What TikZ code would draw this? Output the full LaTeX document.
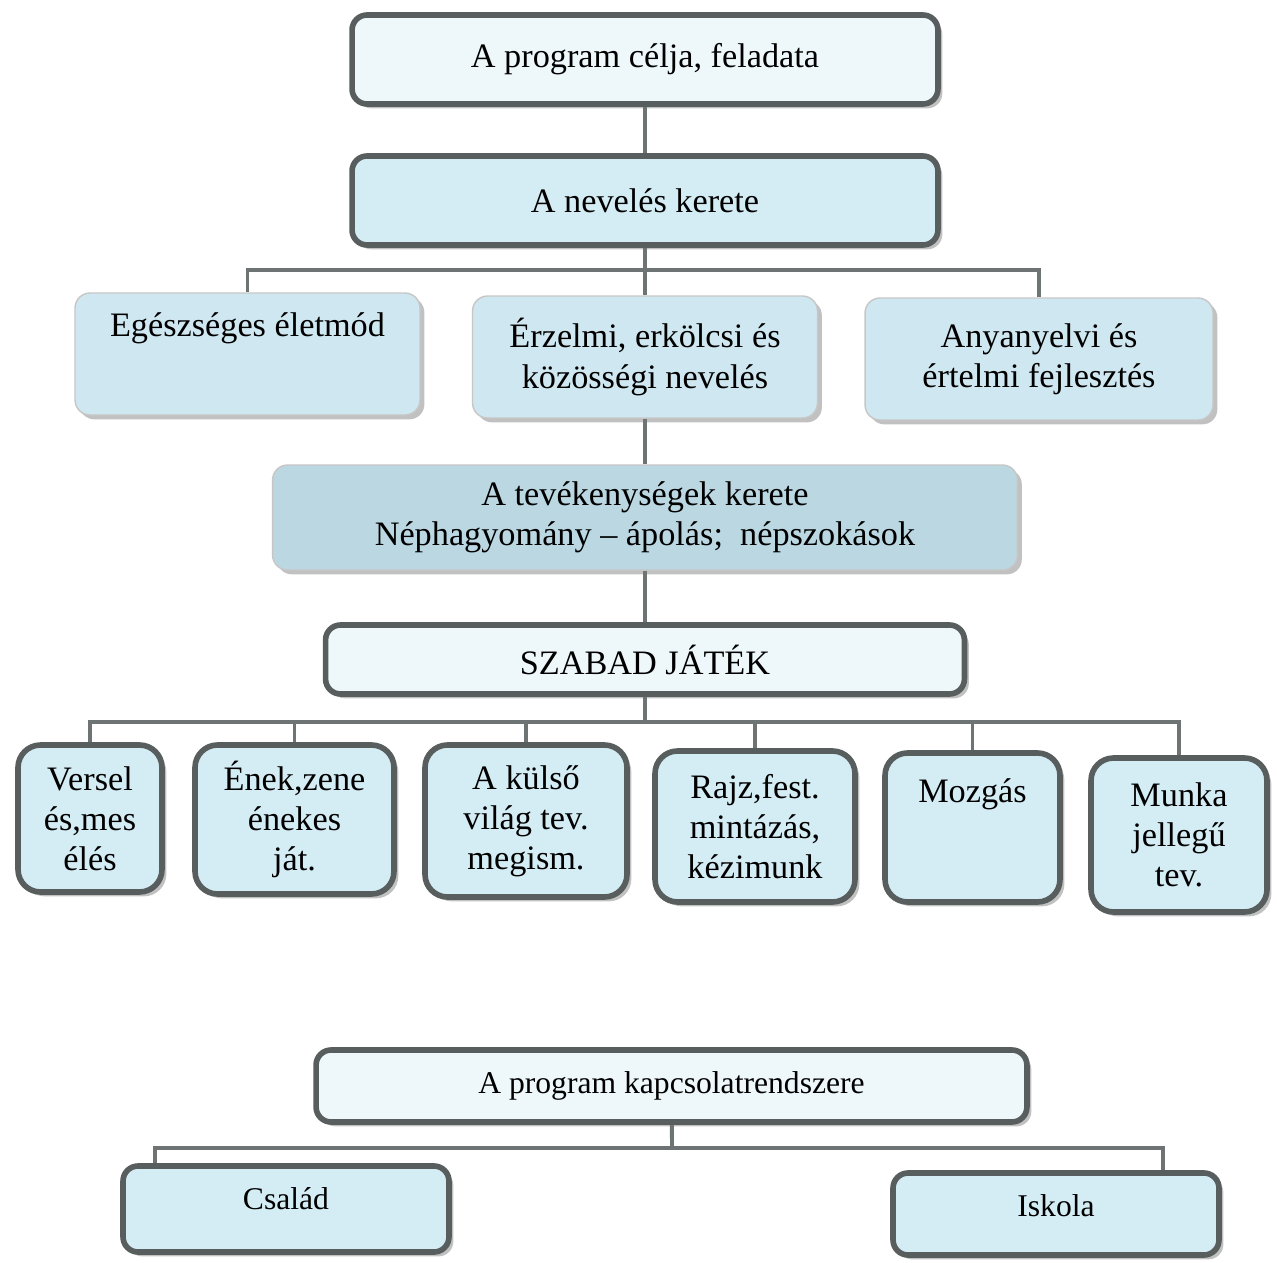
\documentclass[tikz,border=0pt]{standalone}
\usepackage{fontspec}
\setmainfont{Liberation Serif}
\usepackage{xcolor}
\usetikzlibrary{shadows}
\definecolor{paleblue}{HTML}{EEF8FB}
\definecolor{lightblue}{HTML}{D4ECF4}
\definecolor{midblue}{HTML}{CFE7F0}
\definecolor{duskblue}{HTML}{BAD7E2}
\definecolor{edgegray}{HTML}{585D5E}
\definecolor{linegray}{HTML}{6E7373}

\begin{document}
\begin{tikzpicture}[x=0.02cm, y=-0.02cm,
	every node/.style={font=\fontsize{19.5}{22.8}\selectfont, align=center, inner sep=2pt},
	boxshadow/.style={drop shadow={shadow xshift=2.5pt, shadow yshift=-2.5pt, fill=black!40, opacity=0.6}},
	framebox/.style={draw=edgegray, line width=3.2pt, rounded corners=0.3cm, boxshadow},
	softbox/.style={draw=black!22, line width=0.8pt, rounded corners=0.3cm, boxshadow},
	tilebox/.style={framebox, rounded corners=0.45cm, fill=lightblue},
	link/.style={draw=linegray, line width=2.2pt}]
	\fill[white] (0,0) rectangle (1277,1263);
	\useasboundingbox (0,0) rectangle (1277,1263);

	% upper chain
	\node[framebox, fill=paleblue, minimum width=11.72cm, minimum height=1.78cm] (goal) at (645,59.5) {A program célja, feladata};
	\node[framebox, fill=lightblue, minimum width=11.72cm, minimum height=1.78cm] (frame) at (645,200.5) {A nevelés kerete};

	\node[softbox, fill=midblue, minimum width=6.9cm, minimum height=2.44cm, text depth=34pt] (health) at (247.5,354) {Egészséges életmód};
	\node[softbox, fill=midblue, minimum width=6.9cm, minimum height=2.44cm] (moral) at (645,357) {Érzelmi, erkölcsi és\\közösségi nevelés};
	\node[softbox, fill=midblue, minimum width=6.96cm, minimum height=2.44cm] (lang) at (1039,359) {Anyanyelvi és\\értelmi fejlesztés};

	\node[softbox, fill=duskblue, minimum width=14.9cm, minimum height=2.1cm] (acts) at (645,517.5) {A tevékenységek kerete\\Néphagyomány – ápolás;\ \ népszokások};
	\node[framebox, fill=paleblue, minimum width=12.78cm, minimum height=1.38cm] (play) at (645,659.5) {SZABAD JÁTÉK};

	% tiles
	\node[tilebox, minimum width=2.88cm, minimum height=2.94cm] (verse) at (90,818.5) {Versel\\és,mes\\élés};
	\node[tilebox, minimum width=3.98cm, minimum height=2.98cm] (song) at (294.5,819.5) {Ének,zene\\énekes\\ját.};
	\node[tilebox, minimum width=4.04cm, minimum height=3.04cm] (world) at (526,821) {A külső\\világ tev.\\megism.};
	\node[tilebox, minimum width=4.0cm, minimum height=3.02cm] (art) at (755,826.5) {Rajz,fest.\\mintázás,\\kézimunk};
	\node[tilebox, minimum width=3.5cm, minimum height=2.98cm, text depth=42pt] (move) at (972.5,827.5) {Mozgás};
	\node[tilebox, minimum width=3.52cm, minimum height=3.08cm] (work) at (1179,835) {Munka\\jellegű\\tev.};

	% lower chain
	\node[framebox, fill=paleblue, minimum width=14.22cm, minimum height=1.44cm, font=\fontsize{18}{21}\selectfont] (links) at (671.5,1086) {A program kapcsolatrendszere};
	\node[framebox, fill=lightblue, minimum width=6.52cm, minimum height=1.72cm, font=\fontsize{18}{21}\selectfont, text depth=12pt] (family) at (286,1209) {Család};
	\node[framebox, fill=lightblue, minimum width=6.52cm, minimum height=1.64cm, font=\fontsize{18}{21}\selectfont, text depth=10pt] (school) at (1056,1214) {Iskola};

	\coordinate (bus1) at (645,270);
	\coordinate (bus2) at (645,722);
	\coordinate (bus3) at (672,1148);

	\draw[link] (goal) -- (frame);
	\draw[link] (frame) -- (moral);
	\draw[link] (bus1) -| (health);
	\draw[link] (bus1) -| (lang);
	\draw[link] (moral) -- (acts);
	\draw[link] (acts) -- (play);
	\draw[link] (play) -- (bus2);
	\foreach \n in {verse,song,world,art,move,work}
	{
		\draw[link] (bus2) -| (\n);
	}
	\draw[link] (links) -- (bus3);
	\draw[link] (bus3) -| ([xshift=0.7cm]family.north west);
	\draw[link] (bus3) -| ([xshift=-1.18cm]school.north east);
\end{tikzpicture}
\end{document}
